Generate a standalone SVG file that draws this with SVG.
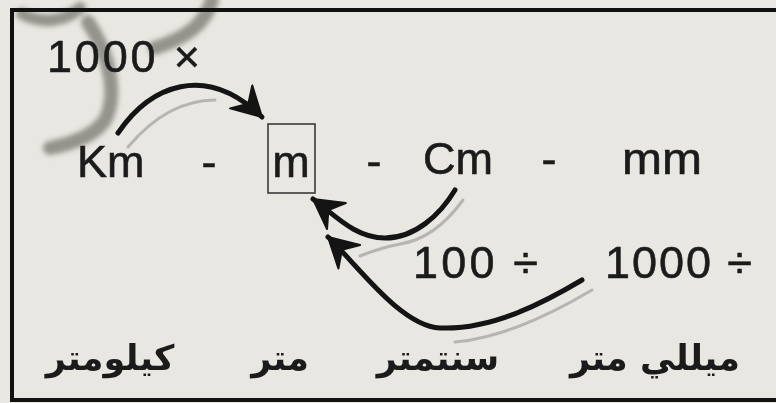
<svg xmlns="http://www.w3.org/2000/svg" width="776" height="403" viewBox="0 0 776 403">
<defs>
<style>
.lat{font-family:"Liberation Sans",Arial,sans-serif;font-size:45px;fill:#1b1b1b;stroke:#1b1b1b;stroke-width:0.6}
.ar{font-family:"DejaVu Sans",sans-serif;font-size:35px;font-weight:bold;fill:#1b1b1b;text-anchor:middle}
.arw{fill:none;stroke:#141414;stroke-width:5;stroke-linecap:round}
.shd{fill:none;stroke:#8d8d88;stroke-width:3;opacity:.55;stroke-linecap:round}
.smg{fill:none;stroke:#6f6f6a;opacity:.7;stroke-linecap:round}
</style>
<marker id="head" markerUnits="userSpaceOnUse" viewBox="0 0 32 36" markerWidth="32" markerHeight="36" refX="30" refY="18" orient="auto">
<path d="M30,18 L1,2 L11,18 L1,34 Z" fill="#141414" stroke="#141414" stroke-width="2" stroke-linejoin="round"/>
</marker>
<filter id="blur" x="-20%" y="-20%" width="140%" height="140%"><feGaussianBlur stdDeviation="2.5"/></filter>
</defs>
<rect width="776" height="403" fill="#e8e7e1"/>
<g id="smudges" filter="url(#blur)">
<path class="smg" stroke-width="12" d="M22,14 C42,24 64,22 80,8"/>
<path class="smg" stroke-width="14" d="M88,22 C110,55 118,95 105,120 C95,135 75,143 50,148"/>
<path class="smg" stroke-width="14" d="M212,0 C205,25 185,38 155,48"/>
</g>
<rect id="frame" x="12" y="10" width="800" height="390" fill="none" stroke="#111" stroke-width="4"/>
<g id="connectors">
<path class="shd" d="M128,147 C155,115 185,100 215,100"/>
<path class="shd" d="M463,200 C445,225 425,240 400,244 C385,247 370,252 360,256"/>
<path class="shd" d="M592,290 C550,315 500,338 455,342"/>
<path class="arw" marker-end="url(#head)" d="M118,133 C150,86 205,62 262,117"/>
<path class="arw" marker-end="url(#head)" d="M455,190 C440,215 415,238 385,238 C355,238 335,215 313,199"/>
<path class="arw" marker-end="url(#head)" d="M582,280 C540,305 490,330 440,328 C400,326 355,262 328,237"/>
</g>
<g id="factor-1000x"><text class="lat" x="47" y="72" textLength="153" lengthAdjust="spacing">1000 ×</text></g>
<g id="km"><text class="lat" x="77" y="177">Km</text></g>
<g id="dash1"><text class="lat" x="209" y="177" text-anchor="middle">-</text></g>
<g id="m">
<rect x="268" y="124" width="47" height="69" fill="none" stroke="#3a3a3a" stroke-width="1.6"/>
<text class="lat" x="291" y="177" text-anchor="middle">m</text>
</g>
<g id="dash2"><text class="lat" x="374" y="176" text-anchor="middle">-</text></g>
<g id="cm"><text class="lat" x="423" y="174">Cm</text></g>
<g id="dash3"><text class="lat" x="549" y="174" text-anchor="middle">-</text></g>
<g id="mm"><text class="lat" x="622" y="174" textLength="80" lengthAdjust="spacingAndGlyphs">mm</text></g>
<g id="factor-100d"><text class="lat" x="413" y="278" textLength="125" lengthAdjust="spacing">100 ÷</text></g>
<g id="factor-1000d"><text class="lat" x="605" y="278" textLength="147" lengthAdjust="spacing">1000 ÷</text></g>
<g id="ar-km"><text class="ar" x="110" y="370">كيلومتر</text></g>
<g id="ar-m"><text class="ar" x="280" y="370">متر</text></g>
<g id="ar-cm"><text class="ar" x="438" y="370">سنتمتر</text></g>
<g id="ar-mm"><text class="ar" x="655" y="370">ميللي متر</text></g>
</svg>
